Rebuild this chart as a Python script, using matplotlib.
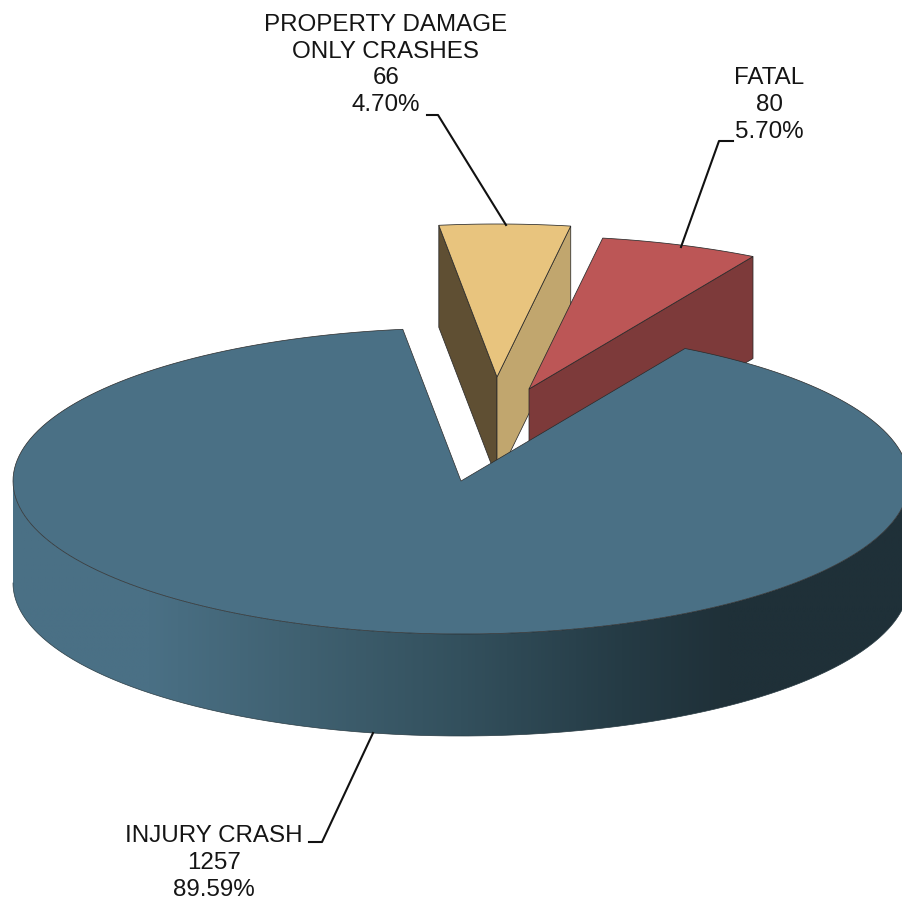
import numpy as np
import matplotlib
matplotlib.use("Agg")
import matplotlib.pyplot as plt
from matplotlib.colors import LinearSegmentedColormap
from matplotlib.patches import Polygon

categories = ["FATAL", "PROPERTY DAMAGE\nONLY CRASHES", "INJURY CRASH"]
counts = [80, 66, 1257]
pct_labels = ["5.70%", "4.70%", "89.59%"]

plt.rcParams['font.family'] = ['Liberation Sans', 'DejaVu Sans']

# pixel space of the picture, y goes down
fig = plt.figure(figsize=(9.03, 9.05), dpi=100)
ax = fig.add_axes([0, 0, 1, 1])

cx, cy = 461, 481
rx, ry = 448, 153
depth = 102
start = 60.0


def pt(x0, y0, a):
    a = np.radians(a)
    return np.column_stack([x0 + rx * np.cos(a), y0 - ry * np.sin(a)])


def wedge(x0, y0, a1, a2):
    arc = pt(x0, y0, np.linspace(a1, a2, 200))
    return np.vstack([[x0, y0], arc])


def face(x0, y0, a):
    p = pt(x0, y0, np.array([a]))[0]
    return [[x0, y0], p, [p[0], p[1] + depth], [x0, y0 + depth]]


def draw(xy, color, z, lw=0.55):
    ax.add_patch(Polygon(xy, closed=True, fc=color, ec="#2a2a2a", lw=lw, zorder=z))


sweep = np.array(counts) / sum(counts) * 360
a0 = start
a1 = a0 + sweep[0]
a2 = a1 + sweep[1]

# property damage slice
px, py = 497, 377
draw(face(px, py, a2), "#5f4f33", 1)
draw(face(px, py, a1), "#c1a66e", 1)
draw(wedge(px, py, a1, a2), "#e8c47e", 2)

# fatal slice
fx, fy = 529, 389
draw(face(fx, fy, a0), "#7d3a3a", 3)
draw(wedge(fx, fy, a0, a1), "#bc5656", 4)

# injury slice, front wall first
grad = LinearSegmentedColormap.from_list(
    "wall",
    [(0.0, "#4a7085"), (0.15, "#4a7085"), (0.33, "#3f6070"), (0.5, "#33505d"),
     (0.68, "#253b45"), (0.8, "#1f3038"), (1.0, "#1f3038")],
)
ang = np.linspace(180, 360, 300)
wall = np.vstack([pt(cx, cy, ang), pt(cx, cy + depth, ang[::-1])])
im = ax.imshow(np.linspace(0, 1, 512).reshape(1, -1), cmap=grad, aspect="auto",
               extent=[cx - rx, cx + rx, cy + ry + depth, cy], zorder=5)
clip = Polygon(wall, closed=True, transform=ax.transData)
im.set_clip_path(clip)
ax.plot(*pt(cx, cy + depth, ang).T, color="#2a3c44", lw=0.5, zorder=5)
draw(wedge(cx, cy, a2, start + 360), "#4a7085", 6, lw=0.5)

# leaders
ax.plot([427, 438, 506], [115, 115, 225], color="#111111", lw=1.5, zorder=7)
ax.plot([733, 719, 681], [141, 141, 247], color="#111111", lw=1.5, zorder=7)
ax.plot([373, 322, 309], [733, 842, 842], color="#111111", lw=1.5, zorder=7)

# labels
label_xy = [(769, 105), (386, 65), (214, 863)]
for name, n, p, (lx, ly) in zip(categories, counts, pct_labels, label_xy):
    ax.text(lx, ly, f"{name}\n{n}\n{p}", ha="center", va="center", fontsize=17.4,
            linespacing=1.29, color="#151515", zorder=8)

ax.set_xlim(0, 903)
ax.set_ylim(905, 0)
ax.axis("off")
fig.savefig("out.png", dpi=100)
